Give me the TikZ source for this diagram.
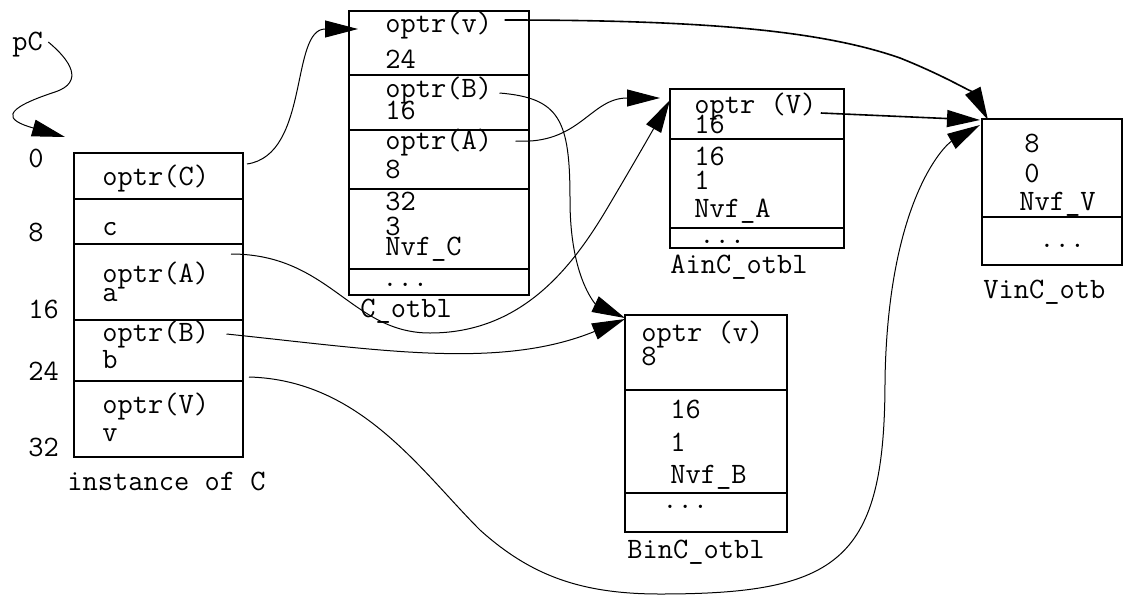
\documentclass[tikz,border=0pt]{standalone}
\usetikzlibrary{arrows.meta,positioning}

\begin{document}
\begin{tikzpicture}[
	x=0.5pt, y=-0.5pt,
	cell/.style={
		rectangle,
		draw=black,
		line width=0.7pt,
		inner sep=0pt,
		outer sep=0pt
	},
	txt/.style={
		anchor=base west,
		inner sep=0pt,
		font=\ttfamily\fontsize{14.8}{17}\selectfont
	},
	ptr/.style={
		-{Triangle[length=16.5pt, width=8.5pt]},
		line width=0.5pt
	},
]
\useasboundingbox (0,0) rectangle (1124,595);

% Instance of C
\node[cell, anchor=north west, minimum width=84.5pt, minimum height=23pt] (ic0) at (74,153) {};
\node[cell, below=0pt of ic0, minimum width=84.5pt, minimum height=22.5pt] (ic1) {};
\node[cell, below=0pt of ic1, minimum width=84.5pt, minimum height=38pt] (ic2) {};
\node[cell, below=0pt of ic2, minimum width=84.5pt, minimum height=30.5pt] (ic3) {};
\node[cell, below=0pt of ic3, minimum width=84.5pt, minimum height=38pt] (ic4) {};

\foreach \y/\t [count=\i] in {185/optr(C), 235/c, 282/optr(A), 301/a, 341/optr(B), 368/b, 413/optr(V), 441/v}
	\node[txt] (it\i) at (102,\y) {\t};
\foreach \y/\t [count=\i] in {167/0, 241/8, 318/16, 380/24, 456/32}
	\node[txt] (off\i) at (28,\y) {\t};
\node[txt] (ilab) at (67,490) {instance of C};
\node[txt] (pC) at (12,50) {pC};

% C_otbl
\node[cell, anchor=north west, minimum width=90pt, minimum height=32pt] (cot0) at (349,11) {};
\node[cell, below=0pt of cot0, minimum width=90pt, minimum height=27.5pt] (cot1) {};
\node[cell, below=0pt of cot1, minimum width=90pt, minimum height=29.5pt] (cot2) {};
\node[cell, below=0pt of cot2, minimum width=90pt, minimum height=40pt] (cot3) {};
\node[cell, below=0pt of cot3, minimum width=90pt, minimum height=13pt] (cot4) {};

\foreach \y/\t [count=\i] in {32/optr(v), 68/24, 97/optr(B), 119/16, 149/optr(A), 178/8, 210/32, 235/3, 255/Nvf\_C}
	\node[txt] (ct\i) at (385,\y) {\t};
\node[txt] (ctdots) at (382,286) {...};
\node[txt] (clab) at (360,317) {C\_otbl};

% AinC_otbl
\node[cell, anchor=north west, minimum width=87pt, minimum height=25pt] (ainc0) at (670,89) {};
\node[cell, below=0pt of ainc0, minimum width=87pt, minimum height=44.5pt] (ainc1) {};
\node[cell, below=0pt of ainc1, minimum width=87pt, minimum height=10pt] (ainc2) {};

\foreach \y/\t [count=\i] in {113/optr (V), 133/16, 165/16, 189/1, 217/Nvf\_A}
	\node[txt] (at\i) at (694,\y) {\t};
\node[txt] (atdots) at (699,243) {...};
\node[txt] (alab) at (670,273) {AinC\_otbl};

% BinC_otbl
\node[cell, anchor=north west, minimum width=81pt, minimum height=37.5pt] (binc0) at (625,315) {};
\node[cell, below=0pt of binc0, minimum width=81pt, minimum height=51.5pt] (binc1) {};
\node[cell, below=0pt of binc1, minimum width=81pt, minimum height=19.5pt] (binc2) {};

\node[txt] (bt1) at (641,341) {optr (v)};
\node[txt] (bt2) at (641,365) {8};
\foreach \y/\t [count=\i from 3] in {418/16, 451/1, 483/Nvf\_B}
	\node[txt] (bt\i) at (670,\y) {\t};
\node[txt] (btdots) at (662,508) {...};
\node[txt] (blab) at (627,558) {BinC\_otbl};

% VinC_otb
\node[cell, anchor=north west, minimum width=70pt, minimum height=49pt] (vinc0) at (982,119) {};
\node[cell, below=0pt of vinc0, minimum width=70pt, minimum height=24pt] (vinc1) {};

\node[txt] (vt1) at (1024,152) {8};
\node[txt] (vt2) at (1024,182) {0};
\node[txt] (vt3) at (1019,210) {Nvf\_V};
\node[txt] (vtdots) at (1039,247) {...};
\node[txt] (vlab) at (983,298) {VinC\_otb};

% Pointers
\draw[ptr] ([shift={(5,-8)}]pC.base east) .. controls (70,60) and (85,82) .. (55,92)
	.. controls (0,110) and (5,120) .. ([shift={(-9,-16)}]ic0.north west);
\draw[ptr] ([shift={(4,-12)}]ic0.east) .. controls (310,155) and (290,29) .. ([shift={(9,18)}]cot0.north west);
\draw[ptr, line width=0.8pt] ([shift={(12,-12)}]ct1.base east) .. controls (700,20) and (820,30) .. (900,58)
	.. controls (950,78) and (975,95) .. ([shift={(6,1)}]vinc0.north west);
\draw[ptr] ([shift={(7,-4)}]ct3.base east) .. controls (560,98) and (570,120) .. (570,200)
	.. controls (570,280) and (597,305) .. ([shift={(0,3)}]binc0.north west);
\draw[ptr] ([shift={(23,-8)}]ct5.base east) .. controls (580,145) and (590,98) .. ([shift={(-10,9)}]ainc0.north west);
\draw[ptr] ([shift={(-12,10)}]ic2.north east) .. controls (330,254) and (351,333) .. (430,333)
	.. controls (520,333) and (570,270) .. (605,212)
	.. controls (630,170) and (650,135) .. ([shift={(0,11)}]ainc0.north west);
\draw[ptr] ([shift={(17,-7)}]it5.base east) .. controls (380,350) and (500,370) .. ([shift={(0,4)}]binc0.north west);
\draw[ptr] ([shift={(6,-4)}]ic4.north east) .. controls (360,380) and (420,470) .. (480,530)
	.. controls (530,575) and (580,594) .. (660,594)
	.. controls (840,594) and (885,560) .. (885,380)
	.. controls (888,200) and (945,145) .. ([shift={(-2,6)}]vinc0.north west);
\draw[ptr, line width=0.8pt] ([shift={(4,0)}]at1.base east) -- ([shift={(-2,1)}]vinc0.north west);

\end{tikzpicture}
\end{document}
